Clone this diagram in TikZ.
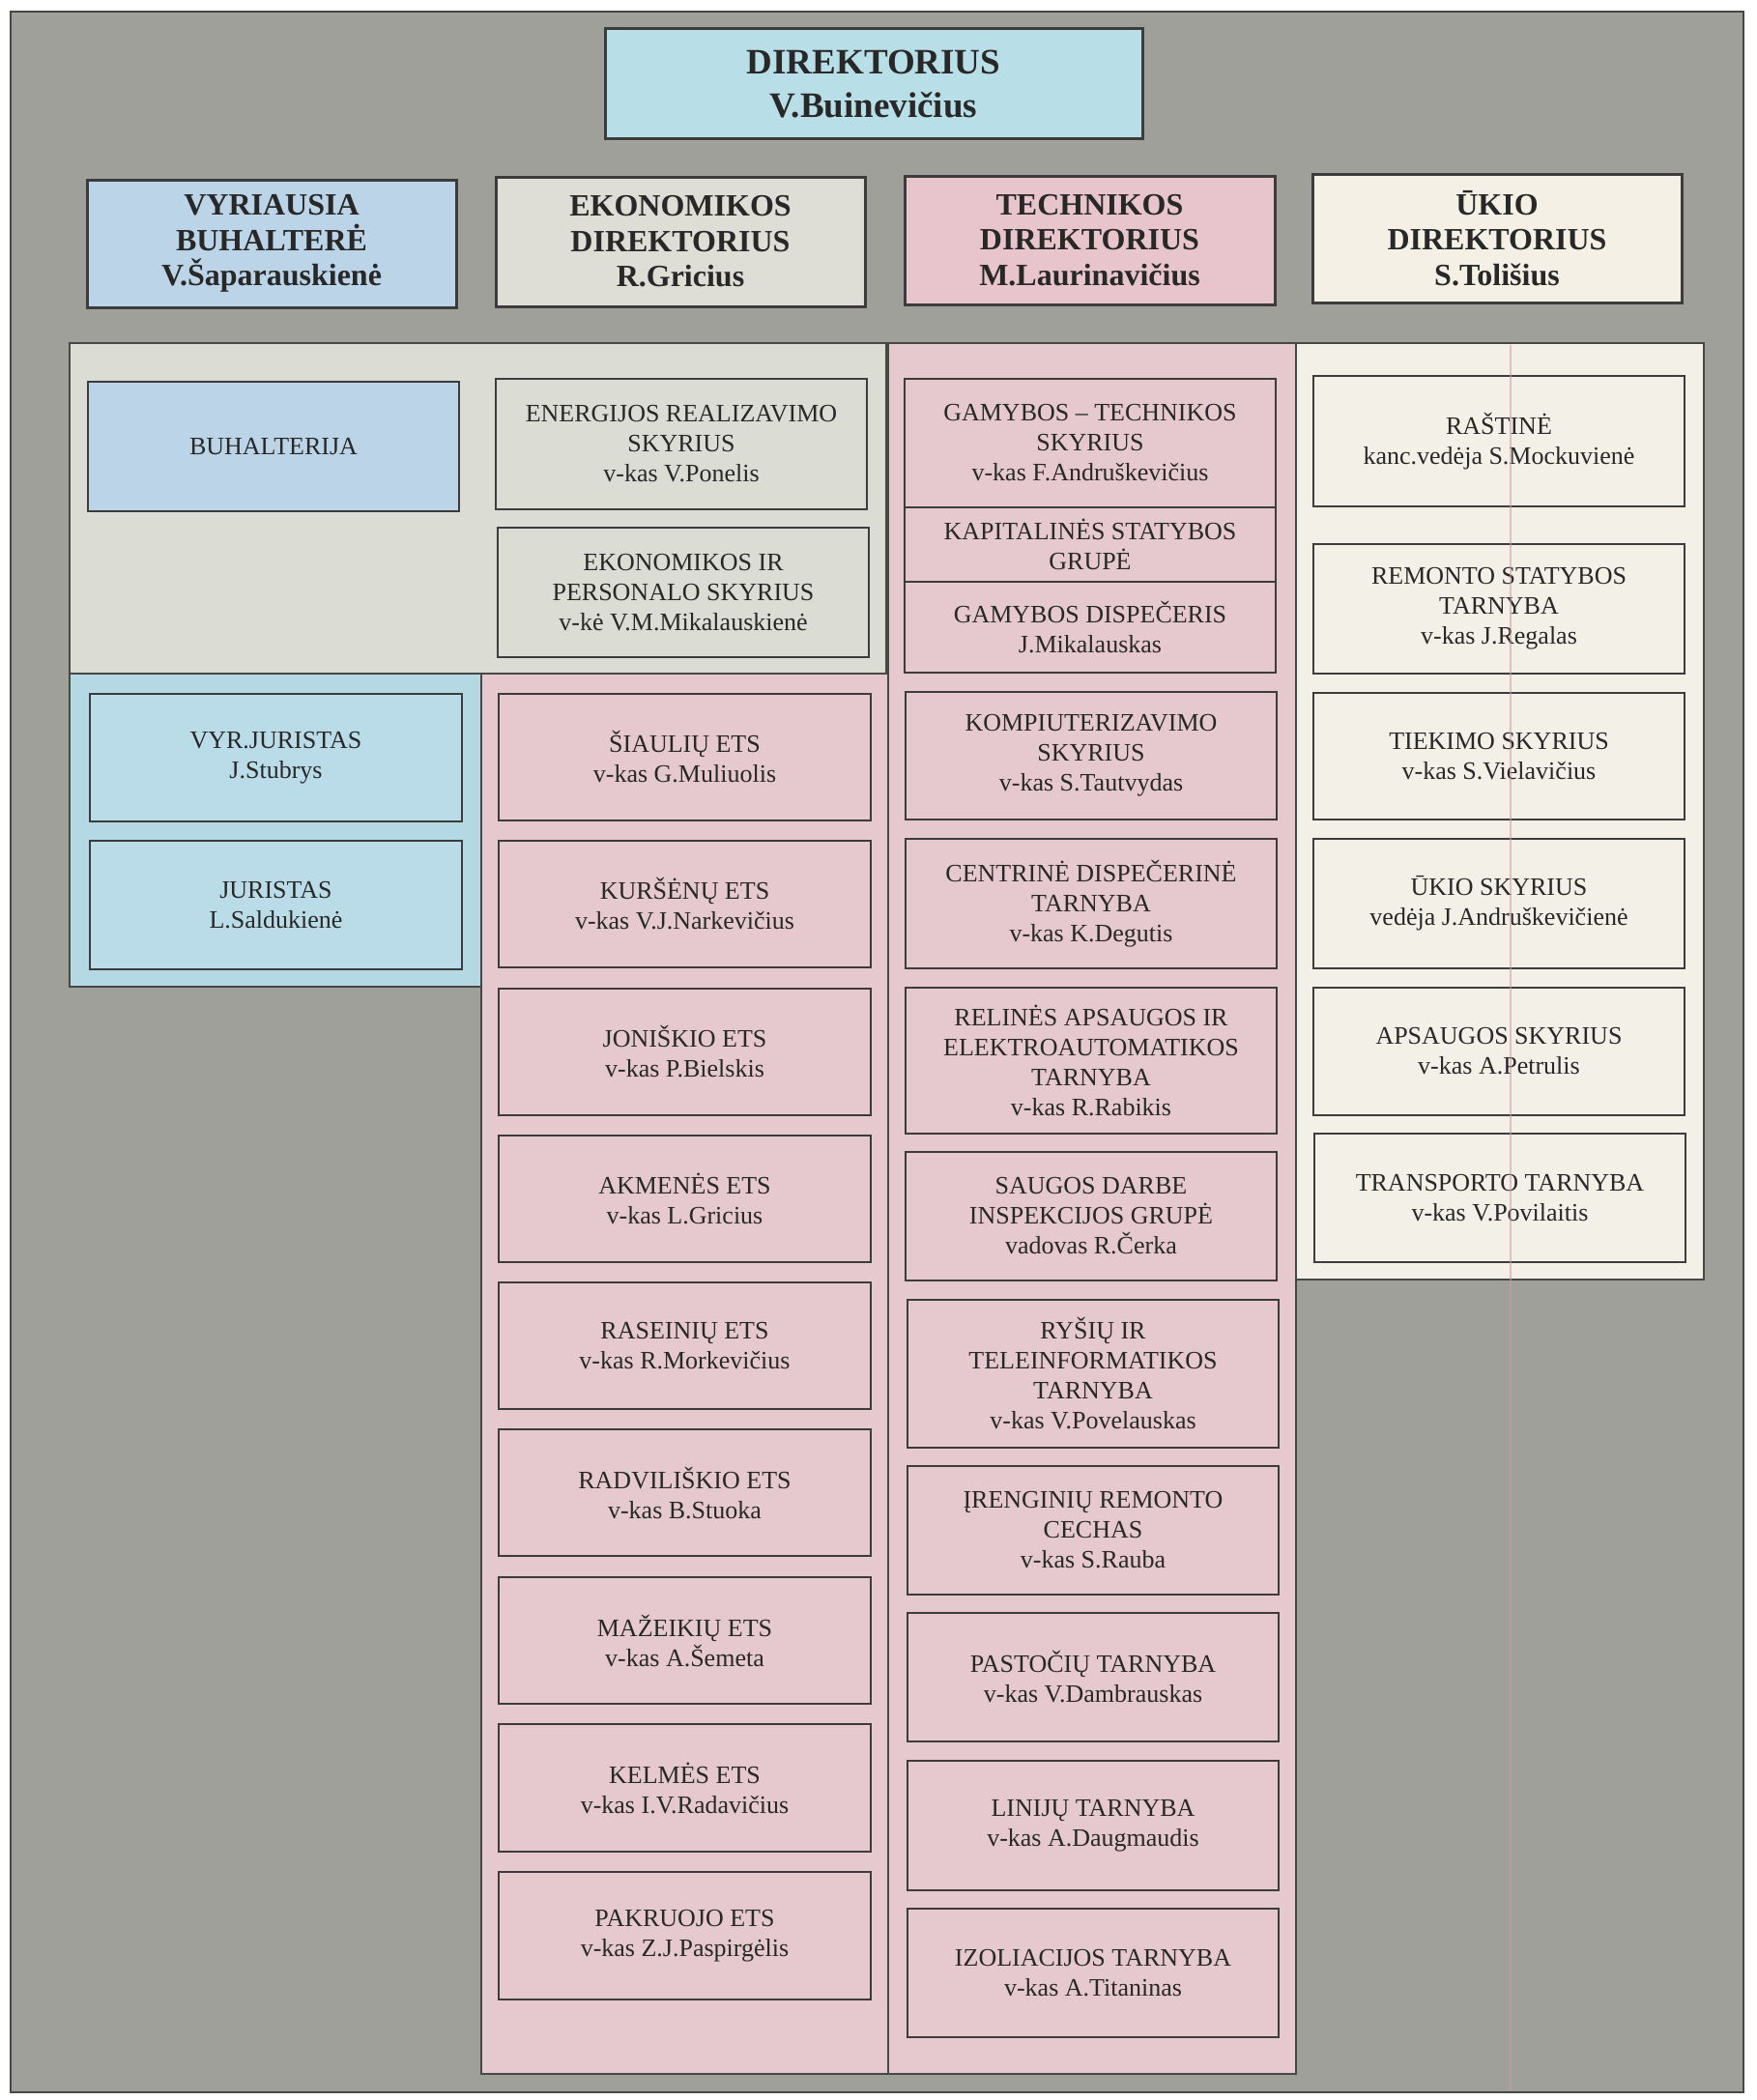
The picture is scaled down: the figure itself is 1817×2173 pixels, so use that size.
\documentclass[tikz,border=0pt]{standalone}
\usepackage{fontspec}
\setmainfont{Liberation Serif}
\definecolor{bggray}{RGB}{158,160,153}
\definecolor{frame}{RGB}{70,72,70}
\definecolor{boxline}{RGB}{60,60,60}
\definecolor{txt}{RGB}{40,40,40}
\definecolor{dirblue}{RGB}{184,222,232}
\definecolor{hblue}{RGB}{187,212,232}
\definecolor{hgray}{RGB}{222,222,215}
\definecolor{hpink}{RGB}{232,197,204}
\definecolor{hcream}{RGB}{244,240,229}
\definecolor{econgray}{RGB}{219,220,211}
\definecolor{legalblue}{RGB}{180,216,228}
\definecolor{legalbox}{RGB}{186,220,232}
\definecolor{pinkp}{RGB}{230,201,206}
\definecolor{creamp}{RGB}{243,240,231}
\definecolor{redline}{RGB}{214,150,162}
\newcommand\orgbox[7]{\node[#2, minimum width={(#5-#3)*0.5pt}, minimum height={(#6-#4)*0.5pt}] (#1) at ({(#3+#5)/2},{(#4+#6)/2}) {#7};}
\tikzset{
  hdr/.style={draw=boxline, line width=1.5pt, align=center, inner sep=0pt, text=txt,
    font=\fontsize{16}{18.2}\selectfont\bfseries},
  dirbox/.style={hdr, font=\fontsize{18.5}{22.5}\selectfont\bfseries},
  ubox/.style={draw=boxline, line width=1.3pt, align=center, inner sep=0pt, text=txt,
    font=\fontsize{13}{15.5}\selectfont},
  panel/.style={draw=frame, line width=1pt}
}
\begin{document}
\begin{tikzpicture}[x=0.5pt,y=-0.5pt]
\useasboundingbox (0,0) rectangle (1817,2173);
\fill[white] (0,0) rectangle (1817,2173);
\filldraw[fill=bggray, draw=frame, line width=1pt] (11,12) rectangle (1804,2165);

% panels
\filldraw[panel, fill=econgray] (72,355) rectangle (917,697);
\filldraw[panel, fill=legalblue] (72,697) rectangle (498,1021);
\filldraw[panel, fill=pinkp] (917,355) -- (1341,355) -- (1341,2146) -- (498,2146) -- (498,697) -- (917,697) -- cycle;
\draw[panel] (919,355) -- (919,2146);
\filldraw[panel, fill=creamp] (1341,355) rectangle (1763,1324);

% top
\orgbox{dir}{dirbox, fill=dirblue}{626}{30}{1182}{144}{DIREKTORIUS\\V.Buinevičius}
\orgbox{hbuh}{hdr, fill=hblue}{90}{186}{472}{318}{VYRIAUSIA\\BUHALTERĖ\\V.Šaparauskienė}
\orgbox{hekon}{hdr, fill=hgray}{513}{183}{895}{317}{EKONOMIKOS\\DIREKTORIUS\\R.Gricius}
\orgbox{htech}{hdr, fill=hpink}{936}{182}{1319}{315}{TECHNIKOS\\DIREKTORIUS\\M.Laurinavičius}
\orgbox{hukio}{hdr, fill=hcream}{1358}{180}{1740}{313}{ŪKIO\\DIREKTORIUS\\S.Tolišius}

% economics panel
\orgbox{buh}{ubox, fill=hblue}{91}{395}{475}{529}{BUHALTERIJA}
\orgbox{energ}{ubox, fill=econgray}{513}{392}{897}{527}{ENERGIJOS REALIZAVIMO\\SKYRIUS\\v-kas V.Ponelis}
\orgbox{ekper}{ubox, fill=econgray}{515}{546}{899}{680}{EKONOMIKOS IR\\PERSONALO SKYRIUS\\v-kė V.M.Mikalauskienė}

% legal
\orgbox{vyrjur}{ubox, fill=legalbox}{93}{718}{478}{850}{VYR.JURISTAS\\J.Stubrys}
\orgbox{jur}{ubox, fill=legalbox}{93}{870}{478}{1003}{JURISTAS\\L.Saldukienė}

% ETS column
\orgbox{ets1}{ubox, fill=pinkp}{516}{718}{901}{849}{ŠIAULIŲ ETS\\v-kas G.Muliuolis}
\orgbox{ets2}{ubox, fill=pinkp}{516}{870}{901}{1001}{KURŠĖNŲ ETS\\v-kas V.J.Narkevičius}
\orgbox{ets3}{ubox, fill=pinkp}{516}{1023}{901}{1154}{JONIŠKIO ETS\\v-kas P.Bielskis}
\orgbox{ets4}{ubox, fill=pinkp}{516}{1175}{901}{1306}{AKMENĖS ETS\\v-kas L.Gricius}
\orgbox{ets5}{ubox, fill=pinkp}{516}{1327}{901}{1458}{RASEINIŲ ETS\\v-kas R.Morkevičius}
\orgbox{ets6}{ubox, fill=pinkp}{516}{1479}{901}{1610}{RADVILIŠKIO ETS\\v-kas B.Stuoka}
\orgbox{ets7}{ubox, fill=pinkp}{516}{1632}{901}{1763}{MAŽEIKIŲ ETS\\v-kas A.Šemeta}
\orgbox{ets8}{ubox, fill=pinkp}{516}{1784}{901}{1916}{KELMĖS ETS\\v-kas I.V.Radavičius}
\orgbox{ets9}{ubox, fill=pinkp}{516}{1937}{901}{2069}{PAKRUOJO ETS\\v-kas Z.J.Paspirgėlis}

% technical column
\orgbox{gamtech}{ubox, fill=pinkp}{936}{392}{1320}{525}{GAMYBOS – TECHNIKOS\\SKYRIUS\\v-kas F.Andruškevičius}
\orgbox{kap}{ubox, fill=pinkp}{936}{525}{1320}{602}{KAPITALINĖS STATYBOS\\GRUPĖ}
\orgbox{disp}{ubox, fill=pinkp}{936}{602}{1320}{696}{GAMYBOS DISPEČERIS\\J.Mikalauskas}
\orgbox{komp}{ubox, fill=pinkp}{937}{716}{1321}{848}{KOMPIUTERIZAVIMO\\SKYRIUS\\v-kas S.Tautvydas}
\orgbox{centr}{ubox, fill=pinkp}{937}{868}{1321}{1002}{CENTRINĖ DISPEČERINĖ\\TARNYBA\\v-kas K.Degutis}
\orgbox{rel}{ubox, fill=pinkp}{937}{1022}{1321}{1173}{RELINĖS APSAUGOS IR\\ELEKTROAUTOMATIKOS\\TARNYBA\\v-kas R.Rabikis}
\orgbox{saug}{ubox, fill=pinkp}{937}{1192}{1321}{1325}{SAUGOS DARBE\\INSPEKCIJOS GRUPĖ\\vadovas R.Čerka}
\orgbox{rysiu}{ubox, fill=pinkp}{939}{1345}{1323}{1498}{RYŠIŲ IR\\TELEINFORMATIKOS\\TARNYBA\\v-kas V.Povelauskas}
\orgbox{iren}{ubox, fill=pinkp}{939}{1517}{1323}{1650}{ĮRENGINIŲ REMONTO\\CECHAS\\v-kas S.Rauba}
\orgbox{past}{ubox, fill=pinkp}{939}{1669}{1323}{1802}{PASTOČIŲ TARNYBA\\v-kas V.Dambrauskas}
\orgbox{lin}{ubox, fill=pinkp}{939}{1822}{1323}{1956}{LINIJŲ TARNYBA\\v-kas A.Daugmaudis}
\orgbox{izol}{ubox, fill=pinkp}{939}{1975}{1323}{2108}{IZOLIACIJOS TARNYBA\\v-kas A.Titaninas}

% ukio column
\orgbox{rast}{ubox, fill=creamp}{1359}{389}{1743}{524}{RAŠTINĖ\\kanc.vedėja S.Mockuvienė}
\orgbox{remont}{ubox, fill=creamp}{1359}{563}{1743}{697}{REMONTO STATYBOS\\TARNYBA\\v-kas J.Regalas}
\orgbox{tiek}{ubox, fill=creamp}{1359}{717}{1743}{848}{TIEKIMO SKYRIUS\\v-kas S.Vielavičius}
\orgbox{ukis}{ubox, fill=creamp}{1359}{868}{1743}{1002}{ŪKIO SKYRIUS\\vedėja J.Andruškevičienė}
\orgbox{aps}{ubox, fill=creamp}{1359}{1022}{1743}{1154}{APSAUGOS SKYRIUS\\v-kas A.Petrulis}
\orgbox{trans}{ubox, fill=creamp}{1360}{1173}{1744}{1306}{TRANSPORTO TARNYBA\\v-kas V.Povilaitis}

% faint red scan line running down the right column
\draw[redline, line width=0.8pt, opacity=0.55] (1563,357) -- (1563,2164);
\end{tikzpicture}
\end{document}
